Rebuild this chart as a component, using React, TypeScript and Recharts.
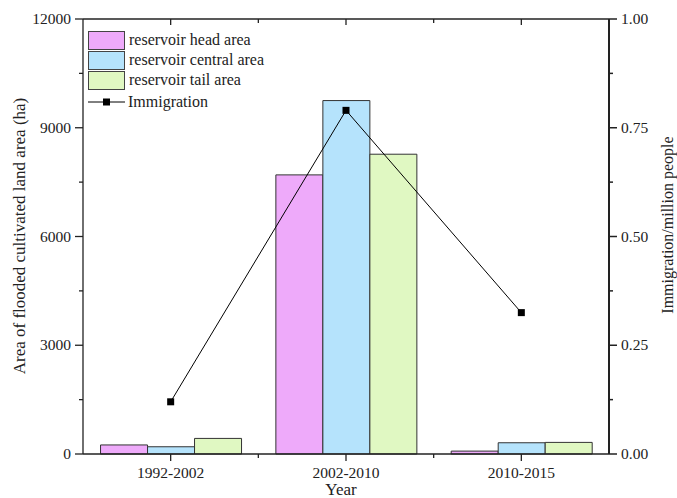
import { ComposedChart, Bar, Line, XAxis, YAxis } from 'recharts';

const periods = ['1992-2002', '2002-2010', '2010-2015'];
const headArea = [250, 7700, 80];
const centralArea = [200, 9750, 310];
const tailArea = [430, 8270, 320];
const immigration = [0.12, 0.79, 0.325];

const leftTicks = [0, 1500, 3000, 4500, 6000, 7500, 9000, 10500, 12000];
const rightTicks = [0, 0.125, 0.25, 0.375, 0.5, 0.625, 0.75, 0.875, 1];

const data = periods.map((p, i) => ({
  period: p,
  head: headArea[i],
  central: centralArea[i],
  tail: tailArea[i],
  immig: immigration[i],
}));

const font = '"Liberation Serif", "DejaVu Serif", serif';
const ink = '#222';
const tickFont = 15.5;

// plot frame geometry (chart size minus margins and axis widths)
const W = 677;
const H = 498;
const PLOT_TOP = 19;
const LEFT_W = 83;
const RIGHT_W = 68;
const X_H = 44;
const PLOT_LEFT = LEFT_W;
const PLOT_RIGHT = W - RIGHT_W;
const PLOT_BOTTOM = H - X_H;
const BAND = (PLOT_RIGHT - PLOT_LEFT) / periods.length;

const legendItems = [
  { name: 'reservoir head area', color: '#EEAAFA' },
  { name: 'reservoir central area', color: '#B5E3FC' },
  { name: 'reservoir tail area', color: '#E0F8C2' },
];

function LeftTick({ x, y, payload }: any) {
  const major = payload.value % 3000 === 0;
  return (
    <g>
      <line x1={x - (major ? 8 : 4)} x2={x} y1={y} y2={y} stroke={ink} strokeWidth={1.3} />
      {major && (
        <text x={x - 12} y={y} dy={5} textAnchor="end" fontSize={tickFont} fontFamily={font} fill={ink}>
          {payload.value}
        </text>
      )}
    </g>
  );
}

function RightTick({ x, y, payload }: any) {
  const major = Math.round(payload.value * 1000) % 250 === 0;
  return (
    <g>
      <line x1={x} x2={x + (major ? 8 : 4)} y1={y} y2={y} stroke={ink} strokeWidth={1.5} />
      {major && (
        <text x={x + 12} y={y} dy={5} textAnchor="start" fontSize={tickFont} fontFamily={font} fill={ink}>
          {payload.value.toFixed(2)}
        </text>
      )}
    </g>
  );
}

function BottomTick({ x, y, payload }: any) {
  return (
    <g>
      <line x1={x} x2={x} y1={y} y2={y + 7} stroke={ink} strokeWidth={1.3} />
      <text x={x} y={y + 24} textAnchor="middle" fontSize={tickFont} fontFamily={font} fill={ink}>
        {payload.value}
      </text>
    </g>
  );
}

function SquareDot({ cx, cy }: any) {
  if (cx == null || cy == null) return null;
  return <rect x={cx - 3.5} y={cy - 3.5} width={7} height={7} fill="#000" />;
}

function LegendBox() {
  return (
    <div
      style={{
        position: 'absolute',
        left: 88,
        top: 30,
        fontFamily: font,
        fontSize: 16,
        color: ink,
        lineHeight: '20px',
      }}
    >
      {legendItems.map((it) => (
        <div key={it.name} style={{ display: 'flex', alignItems: 'center', height: 20 }}>
          <div
            style={{
              width: 35,
              height: 17,
              background: it.color,
              border: '1px solid #444',
              marginRight: 4,
            }}
          />
          <span>{it.name}</span>
        </div>
      ))}
      <div style={{ display: 'flex', alignItems: 'center', height: 20, marginTop: 2 }}>
        <svg width={37} height={10} style={{ marginRight: 3 }}>
          <line x1={0} x2={37} y1={5} y2={5} stroke="#000" />
          <rect x={15} y={1.5} width={7} height={7} fill="#000" />
        </svg>
        <span>Immigration</span>
      </div>
    </div>
  );
}

// top frame with inward ticks, plus the minor ticks under the x axis
function FrameOverlay() {
  const majors = periods.map((_, i) => PLOT_LEFT + (i + 0.5) * BAND);
  const minors = periods.slice(1).map((_, i) => PLOT_LEFT + (i + 1) * BAND);
  return (
    <svg
      width={W}
      height={H}
      style={{ position: 'absolute', left: 0, top: 0, pointerEvents: 'none', zIndex: 2 }}
    >
      <line x1={PLOT_LEFT} x2={PLOT_RIGHT} y1={PLOT_TOP} y2={PLOT_TOP} stroke={ink} strokeWidth={1.5} />
      {majors.map((x) => (
        <line key={'t' + x} x1={x} x2={x} y1={PLOT_TOP} y2={PLOT_TOP + 6} stroke={ink} strokeWidth={1.3} />
      ))}
      {minors.map((x) => (
        <g key={'m' + x}>
          <line x1={x} x2={x} y1={PLOT_TOP} y2={PLOT_TOP + 4} stroke={ink} strokeWidth={1.3} />
          <line x1={x} x2={x} y1={PLOT_BOTTOM} y2={PLOT_BOTTOM + 4} stroke={ink} strokeWidth={1.3} />
        </g>
      ))}
    </svg>
  );
}

export default function App() {
  return (
    <div style={{ position: 'absolute', left: 0, top: 0, width: W, height: H, background: '#fff', overflow: 'hidden' }}>
      <ComposedChart
        width={W}
        height={H}
        data={data}
        margin={{ top: PLOT_TOP, right: 0, bottom: 0, left: 0 }}
        barGap={0}
        barCategoryGap="10%"
      >
        <XAxis
          dataKey="period"
          height={X_H}
          axisLine={{ stroke: ink, strokeWidth: 1.3 }}
          tickLine={false}
          tickSize={0}
          tickMargin={0}
          tick={<BottomTick />}
          interval={0}
        />
        <YAxis
          yAxisId="left"
          width={LEFT_W}
          domain={[0, 12000]}
          ticks={leftTicks}
          interval={0}
          axisLine={{ stroke: ink, strokeWidth: 1.3 }}
          tickLine={false}
          tickSize={0}
          tickMargin={0}
          tick={<LeftTick />}
          label={{
            content: () => (
              <text
                x={25}
                y={236}
                transform="rotate(-90 25 236)"
                textAnchor="middle"
                fontSize={17}
                fontFamily={font}
                fill={ink}
              >
                Area of flooded cultivated land area (ha)
              </text>
            ),
          }}
        />
        <YAxis
          yAxisId="right"
          orientation="right"
          width={RIGHT_W}
          domain={[0, 1]}
          ticks={rightTicks}
          interval={0}
          axisLine={{ stroke: ink, strokeWidth: 2 }}
          tickLine={false}
          tickSize={0}
          tickMargin={0}
          tick={<RightTick />}
          label={{
            content: () => (
              <text
                x={673}
                y={225}
                transform="rotate(-90 673 225)"
                textAnchor="middle"
                fontSize={16}
                fontFamily={font}
                fill={ink}
              >
                Immigration/million people
              </text>
            ),
          }}
        />
        <Bar yAxisId="left" dataKey="head" fill="#EEAAFA" stroke="#333" strokeWidth={1} isAnimationActive={false} />
        <Bar yAxisId="left" dataKey="central" fill="#B5E3FC" stroke="#333" strokeWidth={1} isAnimationActive={false} />
        <Bar yAxisId="left" dataKey="tail" fill="#E0F8C2" stroke="#333" strokeWidth={1} isAnimationActive={false} />
        <Line
          yAxisId="right"
          dataKey="immig"
          stroke="#000"
          strokeWidth={1}
          dot={<SquareDot />}
          activeDot={false}
          isAnimationActive={false}
        />
        <text x={341} y={495} textAnchor="middle" fontSize={17} fontFamily={font} fill={ink}>
          Year
        </text>
      </ComposedChart>
      <FrameOverlay />
      <LegendBox />
    </div>
  );
}
